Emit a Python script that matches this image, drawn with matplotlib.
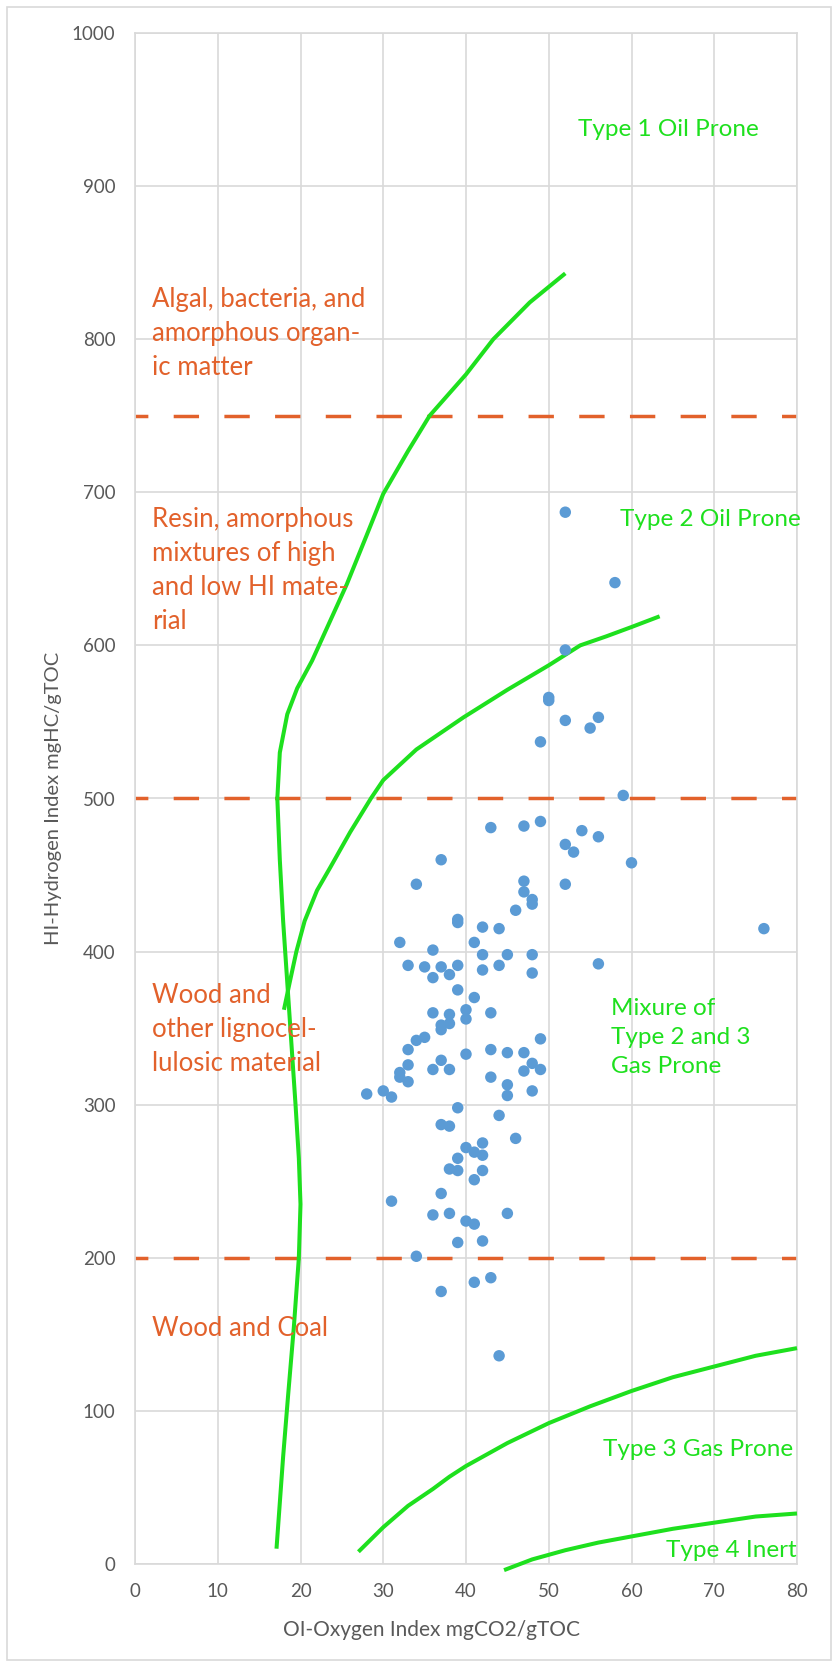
import matplotlib.pyplot as plt
import matplotlib.patches as patches

plt.rcParams['font.family'] = ['Lato', 'DejaVu Sans']

# sample values: oxygen index (OI) and hydrogen index (HI)
oi = [52, 58, 52, 50, 50, 52, 55, 56, 49, 59,
      43, 47, 49, 54, 52, 53, 56, 60, 37, 34, 52, 47, 47, 48, 48, 46,
      39, 39, 42, 44, 32, 36, 41, 42, 45, 48, 76, 56,
      33, 35, 37, 39, 38, 36, 42, 44, 48, 39, 41,
      36, 38, 40, 40, 43, 38, 37, 37, 49, 35, 34, 33, 43, 45, 47, 40,
      37, 33, 48, 47, 49, 36, 38, 32, 32, 33, 43, 45, 45, 48,
      28, 30, 31, 39, 44, 37, 38, 46, 42, 40, 41, 42, 39, 38, 39, 42, 41,
      37, 31, 36, 38, 45, 40, 41, 39, 42,
      34, 37, 41, 43, 44]
hi = [687, 641, 597, 566, 564, 551, 546, 553, 537, 502,
      481, 482, 485, 479, 470, 465, 475, 458, 460, 444, 444, 446, 439, 434, 431, 427,
      421, 419, 416, 415, 406, 401, 406, 398, 398, 398, 415, 392,
      391, 390, 390, 391, 385, 383, 388, 391, 386, 375, 370,
      360, 359, 362, 356, 360, 353, 352, 349, 343, 344, 342, 336, 336, 334, 334, 333,
      329, 326, 327, 322, 323, 323, 323, 321, 318, 315, 318, 313, 306, 309,
      307, 309, 305, 298, 293, 287, 286, 278, 275, 272, 269, 267, 265, 258, 257, 257, 251,
      242, 237, 228, 229, 229, 224, 222, 210, 211,
      201, 178, 184, 187, 136]

# kerogen type boundary curves (OI, HI)
type1_oi = [17.1, 17.5, 17.9, 18.5, 19.2, 19.8, 20.0, 19.8, 19.4, 18.9, 18.4, 17.9,
            17.5, 17.2, 17.5, 18.4, 19.6, 21.4, 23.5, 25.6, 28.0, 30.0, 33.0, 35.6,
            40.0, 43.3, 47.7, 52.0]
type1_hi = [10, 40, 70, 110, 155, 200, 235, 265, 300, 340, 380, 420,
            460, 500, 530, 555, 572, 590, 615, 640, 672, 699, 727, 750,
            777, 800, 824, 843]
type2_oi = [18.0, 18.7, 19.5, 20.5, 22.0, 23.6, 26.0, 28.5, 30.0, 34.0, 39.7, 45.0,
            50.0, 53.8, 57.0, 60.0, 63.4]
type2_hi = [362, 380, 400, 420, 440, 455, 478, 500, 512, 532, 553, 571,
            587, 600, 606, 612, 619]
type3_oi = [27, 30, 33, 36, 38, 40, 45, 50, 55, 60, 65, 70, 75, 80]
type3_hi = [8, 24, 38, 49, 57, 64, 79, 92, 103, 113, 122, 129, 136, 141]
type4_oi = [44.6, 48, 52, 56, 60, 65, 70, 75, 80]
type4_hi = [-4, 3, 9, 14, 18, 23, 27, 31, 33]

# HI levels separating organic matter sources
source_hi = [200, 500, 750]

orange = '#E2612B'
green = '#1EE01E'
blue = '#5B9BD5'
grey = '#595959'

fig = plt.figure(figsize=(8.36, 16.67), dpi=100)
ax = fig.add_axes([135 / 836, 1 - 1564 / 1667, 662 / 836, 1531 / 1667])

ax.set_xlim(0, 80)
ax.set_ylim(0, 1000)
ax.set_xticks(range(0, 81, 10))
ax.set_yticks(range(0, 1001, 100))
ax.grid(color='#D9D9D9', lw=1.2)
ax.set_axisbelow(True)
for s in ax.spines.values():
    s.set_color('#D9D9D9')
    s.set_linewidth(1.2)
ax.tick_params(length=0, labelsize=13.5, colors=grey)
ax.tick_params(axis='x', pad=14)
ax.tick_params(axis='y', pad=14)

for h in source_hi:
    ax.axhline(h, color=orange, lw=2.5, linestyle=(3.6, (7.3, 7.3)), zorder=2)

for cx, cy in [(type1_oi, type1_hi), (type2_oi, type2_hi),
               (type3_oi, type3_hi), (type4_oi, type4_hi)]:
    ax.plot(cx, cy, color=green, lw=2.9, solid_capstyle='butt', clip_on=False, zorder=3)

ax.scatter(oi, hi, s=68, color=blue, edgecolors='none', zorder=4)

ax.set_xlabel('OI-Oxygen Index mgCO2/gTOC', fontsize=15, color=grey)
ax.xaxis.set_label_coords(35.8 / 80, -0.0363)
ax.set_ylabel('HI-Hydrogen Index mgHC/gTOC', fontsize=14.5, color=grey, labelpad=7)

tk = dict(color=orange, fontsize=18.5, linespacing=1.45, va='center', ha='left')
ax.text(2.1, 804, 'Algal, bacteria, and\namorphous organ-\nic matter', **tk)
ax.text(2.1, 649, 'Resin, amorphous\nmixtures of high\nand low HI mate-\nrial', **tk)
ax.text(2.1, 349, 'Wood and\nother lignocel-\nlulosic material', **tk)
ax.text(2.1, 154, 'Wood and Coal', **tk)

tg = dict(color=green, fontsize=17.5, linespacing=1.47, va='center', ha='left')
ax.text(53.5, 937, 'Type 1 Oil Prone', **tg)
ax.text(58.6, 682, 'Type 2 Oil Prone', **tg)
ax.text(57.5, 344, 'Mixure of\nType 2 and 3\nGas Prone', **tg)
ax.text(56.5, 75, 'Type 3 Gas Prone', **tg)
ax.text(80, 9, 'Type 4 Inert', color=green, fontsize=17.5, va='center', ha='right')

fig.add_artist(patches.Rectangle((7 / 836, 7 / 1667), 824 / 836, 1653 / 1667,
                                 transform=fig.transFigure, fill=False,
                                 ec='#D9D9D9', lw=1.2))

fig.savefig('out.png', dpi=100)
